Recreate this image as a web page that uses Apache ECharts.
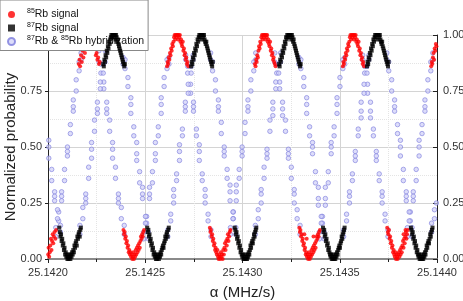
<!DOCTYPE html>
<html>
<head>
<meta charset="utf-8">
<script src="https://cdn.jsdelivr.net/npm/echarts@6/dist/echarts.min.js"></script>
<style>html,body{margin:0;padding:0;background:#fff;}#c{width:463px;height:301px;}</style>
</head>
<body>
<div id="c"></div>
<script>
// ---- data ----
const xMin = 25.1420, xMax = 25.1440, xStep = 0.0005;
const yMin = 0, yMax = 1, yStep = 0.25;
const xAxisTitle = 'α (MHz/s)';
const yAxisTitle = 'Normalized probability';

const rb85Signal = [
[25.142001,0.02],[25.142003,0.05],[25.142006,0.01],[25.142009,0.03],[25.142012,0.06],[25.142015,0.09],[25.142018,0.04],[25.142021,0.08],[25.142024,0.11],[25.142027,0.07],[25.142030,0.10],[25.142034,0.12],[25.142038,0.09],[25.142042,0.13],
[25.142158,0.87],[25.142162,0.89],[25.142165,0.86],[25.142170,0.91],[25.142174,0.88],[25.142178,0.93],[25.142182,0.90],[25.142186,0.95],[25.142190,0.92],[25.142194,0.97],[25.142198,0.96],[25.142202,0.99],[25.142206,1.00],[25.142210,0.98],[25.142214,1.00],[25.142218,0.99],[25.142222,1.00],[25.142226,0.97],[25.142230,1.00],[25.142234,0.96],[25.142238,0.94],[25.142242,0.95],[25.142246,0.91],[25.142250,0.92],[25.142254,0.89],[25.142258,0.90],[25.142262,0.87],[25.142266,0.88],
[25.142388,0.13],[25.142391,0.11],[25.142394,0.12],[25.142397,0.09],[25.142400,0.10],[25.142403,0.07],[25.142406,0.08],[25.142409,0.05],[25.142412,0.06],[25.142415,0.03],[25.142418,0.04],[25.142421,0.02],[25.142424,0.03],[25.142427,0.01],[25.142430,0.02],[25.142433,0.00],[25.142436,0.01],[25.142439,0.03],[25.142442,0.00],[25.142445,0.02],[25.142448,0.01],[25.142451,0.04],[25.142454,0.02],[25.142457,0.05],[25.142460,0.03],[25.142463,0.06],[25.142466,0.04],[25.142469,0.07],[25.142472,0.05],[25.142475,0.08],[25.142478,0.10],[25.142481,0.09],[25.142484,0.11],[25.142487,0.10],[25.142490,0.12],[25.142494,0.13],
[25.142612,0.86],[25.142615,0.88],[25.142618,0.87],[25.142621,0.90],[25.142624,0.89],[25.142627,0.92],[25.142630,0.91],[25.142633,0.94],[25.142636,0.93],[25.142639,0.96],[25.142642,0.95],[25.142645,0.97],[25.142648,0.99],[25.142651,1.00],[25.142654,0.98],[25.142657,1.00],[25.142660,0.99],[25.142663,1.00],[25.142666,1.00],[25.142669,0.98],[25.142672,1.00],[25.142675,0.99],[25.142678,1.00],[25.142681,0.97],[25.142684,0.98],[25.142687,0.96],[25.142690,0.95],[25.142693,0.97],[25.142696,0.93],[25.142699,0.94],[25.142702,0.91],[25.142705,0.92],[25.142708,0.89],[25.142711,0.90],[25.142714,0.87],[25.142717,0.88],[25.142721,0.86],
[25.142832,0.14],[25.142835,0.12],[25.142838,0.13],[25.142841,0.10],[25.142844,0.11],[25.142847,0.08],[25.142850,0.09],[25.142853,0.06],[25.142856,0.07],[25.142859,0.04],[25.142862,0.05],[25.142865,0.03],[25.142868,0.02],[25.142871,0.04],[25.142874,0.01],[25.142877,0.00],[25.142880,0.02],[25.142883,0.01],[25.142886,0.00],[25.142889,0.03],[25.142892,0.01],[25.142895,0.02],[25.142898,0.00],[25.142901,0.04],[25.142904,0.02],[25.142907,0.05],[25.142910,0.07],[25.142913,0.04],[25.142916,0.08],[25.142919,0.06],[25.142922,0.09],[25.142925,0.11],[25.142928,0.08],[25.142931,0.10],[25.142934,0.12],[25.142938,0.13],
[25.143064,0.87],[25.143067,0.86],[25.143070,0.89],[25.143073,0.88],[25.143076,0.91],[25.143079,0.90],[25.143082,0.93],[25.143085,0.95],[25.143088,0.94],[25.143091,0.97],[25.143094,0.96],[25.143097,0.99],[25.143100,1.00],[25.143103,0.98],[25.143106,1.00],[25.143109,0.99],[25.143112,1.00],[25.143115,1.00],[25.143118,0.98],[25.143121,1.00],[25.143124,0.99],[25.143127,1.00],[25.143130,0.97],[25.143133,0.98],[25.143136,0.96],[25.143139,0.95],[25.143142,0.97],[25.143145,0.93],[25.143148,0.94],[25.143151,0.91],[25.143154,0.92],[25.143157,0.89],[25.143160,0.90],[25.143163,0.88],[25.143166,0.87],[25.143170,0.86],
[25.143292,0.14],[25.143295,0.12],[25.143298,0.13],[25.143301,0.10],[25.143304,0.11],[25.143307,0.08],[25.143310,0.09],[25.143313,0.06],[25.143316,0.07],[25.143319,0.04],[25.143322,0.05],[25.143325,0.02],[25.143328,0.03],[25.143331,0.01],[25.143334,0.02],[25.143337,0.00],[25.143340,0.01],[25.143343,0.03],[25.143346,0.00],[25.143349,0.02],[25.143352,0.01],[25.143355,0.04],[25.143358,0.02],[25.143361,0.05],[25.143364,0.03],[25.143367,0.06],[25.143370,0.04],[25.143373,0.07],[25.143376,0.05],[25.143379,0.08],[25.143382,0.10],[25.143385,0.09],[25.143388,0.11],[25.143391,0.10],[25.143394,0.12],[25.143398,0.13],[25.143330,0.09],[25.143318,0.11],[25.143365,0.10],
[25.143516,0.86],[25.143519,0.88],[25.143522,0.87],[25.143525,0.90],[25.143528,0.89],[25.143531,0.92],[25.143534,0.91],[25.143537,0.94],[25.143540,0.93],[25.143543,0.96],[25.143546,0.95],[25.143549,0.97],[25.143552,0.99],[25.143555,1.00],[25.143558,0.98],[25.143561,1.00],[25.143564,0.99],[25.143567,1.00],[25.143570,1.00],[25.143573,0.98],[25.143576,1.00],[25.143579,0.99],[25.143582,1.00],[25.143585,0.97],[25.143588,0.98],[25.143591,0.96],[25.143594,0.95],[25.143597,0.97],[25.143600,0.93],[25.143603,0.94],[25.143606,0.91],[25.143609,0.92],[25.143612,0.89],[25.143615,0.90],[25.143618,0.87],[25.143621,0.88],[25.143625,0.86],
[25.143744,0.14],[25.143747,0.12],[25.143750,0.11],[25.143753,0.13],[25.143756,0.09],[25.143759,0.10],[25.143762,0.07],[25.143765,0.08],[25.143768,0.05],[25.143771,0.06],[25.143774,0.03],[25.143777,0.04],[25.143780,0.02],[25.143783,0.01],[25.143786,0.03],[25.143789,0.00],[25.143792,0.02],[25.143795,0.01],[25.143798,0.00],[25.143801,0.02],[25.143804,0.03],[25.143807,0.01],[25.143810,0.04],[25.143813,0.02],[25.143816,0.05],[25.143819,0.03],[25.143822,0.06],[25.143825,0.08],[25.143828,0.05],[25.143831,0.09],[25.143834,0.07],[25.143837,0.10],[25.143840,0.12],[25.143843,0.09],[25.143846,0.11],[25.143850,0.13],[25.143828,0.11],[25.143838,0.13],
[25.143970,0.86],[25.143973,0.88],[25.143976,0.87],[25.143979,0.90],[25.143982,0.92],[25.143985,0.89],[25.143988,0.94],[25.143991,0.93],[25.143994,0.96],[25.143997,0.95]
];

const rb87Signal = [
[25.142058,0.14],[25.142061,0.12],[25.142064,0.10],[25.142067,0.11],[25.142070,0.08],[25.142073,0.09],[25.142076,0.06],[25.142079,0.07],[25.142082,0.04],[25.142085,0.05],[25.142088,0.02],[25.142091,0.03],[25.142094,0.01],[25.142097,0.02],[25.142100,0.00],[25.142103,0.01],[25.142106,0.00],[25.142109,0.02],[25.142112,0.01],[25.142115,0.00],[25.142118,0.02],[25.142121,0.01],[25.142124,0.03],[25.142127,0.02],[25.142130,0.04],[25.142133,0.03],[25.142136,0.06],[25.142139,0.05],[25.142142,0.07],[25.142145,0.08],[25.142148,0.06],[25.142151,0.10],[25.142154,0.09],[25.142157,0.11],[25.142160,0.12],[25.142163,0.10],[25.142166,0.13],[25.142169,0.14],
[25.142284,0.87],[25.142287,0.86],[25.142290,0.89],[25.142293,0.88],[25.142296,0.91],[25.142299,0.90],[25.142302,0.93],[25.142305,0.92],[25.142308,0.95],[25.142311,0.94],[25.142314,0.97],[25.142317,0.96],[25.142320,0.98],[25.142323,0.99],[25.142326,1.00],[25.142329,0.99],[25.142332,1.00],[25.142335,1.00],[25.142338,0.99],[25.142341,1.00],[25.142344,1.00],[25.142347,0.98],[25.142350,1.00],[25.142353,0.99],[25.142356,0.97],[25.142359,0.98],[25.142362,0.96],[25.142365,0.95],[25.142368,0.94],[25.142371,0.93],[25.142374,0.92],[25.142377,0.91],[25.142380,0.90],[25.142383,0.89],[25.142386,0.88],[25.142389,0.87],[25.142392,0.86],[25.142395,0.87],
[25.142510,0.14],[25.142513,0.12],[25.142516,0.13],[25.142519,0.10],[25.142522,0.11],[25.142525,0.08],[25.142528,0.09],[25.142531,0.06],[25.142534,0.07],[25.142537,0.04],[25.142540,0.05],[25.142543,0.02],[25.142546,0.03],[25.142549,0.01],[25.142552,0.02],[25.142555,0.00],[25.142558,0.01],[25.142561,0.00],[25.142564,0.02],[25.142567,0.01],[25.142570,0.00],[25.142573,0.02],[25.142576,0.01],[25.142579,0.03],[25.142582,0.02],[25.142585,0.04],[25.142588,0.05],[25.142591,0.06],[25.142594,0.05],[25.142597,0.07],[25.142600,0.08],[25.142603,0.10],[25.142606,0.09],[25.142609,0.11],[25.142612,0.12],[25.142615,0.10],[25.142618,0.13],[25.142621,0.14],
[25.142736,0.86],[25.142739,0.88],[25.142742,0.87],[25.142745,0.90],[25.142748,0.89],[25.142751,0.92],[25.142754,0.91],[25.142757,0.94],[25.142760,0.93],[25.142763,0.96],[25.142766,0.95],[25.142769,0.98],[25.142772,0.97],[25.142775,0.99],[25.142778,1.00],[25.142781,0.99],[25.142784,1.00],[25.142787,1.00],[25.142790,0.98],[25.142793,1.00],[25.142796,1.00],[25.142799,0.99],[25.142802,1.00],[25.142805,0.98],[25.142808,0.97],[25.142811,0.96],[25.142814,0.97],[25.142817,0.95],[25.142820,0.94],[25.142823,0.93],[25.142826,0.92],[25.142829,0.91],[25.142832,0.90],[25.142835,0.89],[25.142838,0.88],[25.142841,0.87],[25.142844,0.86],[25.142847,0.88],
[25.142960,0.14],[25.142963,0.13],[25.142966,0.11],[25.142969,0.12],[25.142972,0.09],[25.142975,0.10],[25.142978,0.07],[25.142981,0.08],[25.142984,0.05],[25.142987,0.06],[25.142990,0.03],[25.142993,0.04],[25.142996,0.02],[25.142999,0.01],[25.143002,0.02],[25.143005,0.00],[25.143008,0.01],[25.143011,0.00],[25.143014,0.02],[25.143017,0.00],[25.143020,0.01],[25.143023,0.00],[25.143026,0.02],[25.143029,0.01],[25.143032,0.03],[25.143035,0.02],[25.143038,0.04],[25.143041,0.06],[25.143044,0.05],[25.143047,0.07],[25.143050,0.08],[25.143053,0.07],[25.143056,0.09],[25.143059,0.11],[25.143062,0.10],[25.143065,0.12],[25.143068,0.13],[25.143071,0.14],
[25.143188,0.87],[25.143191,0.86],[25.143194,0.89],[25.143197,0.88],[25.143200,0.91],[25.143203,0.90],[25.143206,0.93],[25.143209,0.92],[25.143212,0.95],[25.143215,0.94],[25.143218,0.97],[25.143221,0.96],[25.143224,0.99],[25.143227,0.98],[25.143230,1.00],[25.143233,0.99],[25.143236,1.00],[25.143239,1.00],[25.143242,0.99],[25.143245,1.00],[25.143248,1.00],[25.143251,0.98],[25.143254,1.00],[25.143257,0.99],[25.143260,0.97],[25.143263,0.98],[25.143266,0.96],[25.143269,0.95],[25.143272,0.94],[25.143275,0.93],[25.143278,0.92],[25.143281,0.91],[25.143284,0.90],[25.143287,0.89],[25.143290,0.88],[25.143293,0.87],[25.143296,0.86],[25.143299,0.87],
[25.143414,0.14],[25.143417,0.12],[25.143420,0.13],[25.143423,0.10],[25.143426,0.11],[25.143429,0.08],[25.143432,0.09],[25.143435,0.06],[25.143438,0.07],[25.143441,0.04],[25.143444,0.05],[25.143447,0.03],[25.143450,0.02],[25.143453,0.01],[25.143456,0.02],[25.143459,0.00],[25.143462,0.01],[25.143465,0.00],[25.143468,0.02],[25.143471,0.00],[25.143474,0.01],[25.143477,0.00],[25.143480,0.02],[25.143483,0.01],[25.143486,0.03],[25.143489,0.02],[25.143492,0.04],[25.143495,0.05],[25.143498,0.06],[25.143501,0.05],[25.143504,0.07],[25.143507,0.08],[25.143510,0.10],[25.143513,0.09],[25.143516,0.11],[25.143519,0.12],[25.143522,0.13],[25.143525,0.14],
[25.143640,0.86],[25.143643,0.88],[25.143646,0.87],[25.143649,0.90],[25.143652,0.89],[25.143655,0.92],[25.143658,0.91],[25.143661,0.94],[25.143664,0.93],[25.143667,0.96],[25.143670,0.95],[25.143673,0.98],[25.143676,0.97],[25.143679,0.99],[25.143682,1.00],[25.143685,0.99],[25.143688,1.00],[25.143691,1.00],[25.143694,0.98],[25.143697,1.00],[25.143700,1.00],[25.143703,0.99],[25.143706,1.00],[25.143709,0.98],[25.143712,0.97],[25.143715,0.96],[25.143718,0.97],[25.143721,0.95],[25.143724,0.94],[25.143727,0.93],[25.143730,0.92],[25.143733,0.91],[25.143736,0.90],[25.143739,0.89],[25.143742,0.88],[25.143745,0.87],[25.143748,0.86],[25.143751,0.88],
[25.143866,0.14],[25.143869,0.13],[25.143872,0.11],[25.143875,0.12],[25.143878,0.09],[25.143881,0.10],[25.143884,0.07],[25.143887,0.08],[25.143890,0.05],[25.143893,0.06],[25.143896,0.03],[25.143899,0.04],[25.143902,0.02],[25.143905,0.01],[25.143908,0.02],[25.143911,0.00],[25.143914,0.01],[25.143917,0.00],[25.143920,0.02],[25.143923,0.00],[25.143926,0.01],[25.143929,0.00],[25.143932,0.02],[25.143935,0.01],[25.143938,0.03],[25.143941,0.02],[25.143944,0.04],[25.143947,0.06],[25.143950,0.05],[25.143953,0.07],[25.143956,0.08],[25.143959,0.07],[25.143962,0.09],[25.143965,0.11],[25.143968,0.10],[25.143971,0.12],[25.143974,0.13],[25.143977,0.14]
];

// hybridization points following the 85Rb fringes
const hybBranch85 = [
[25.142040,.10],[25.142040,.14],[25.142055,.17],[25.142055,.21],[25.142070,.26],[25.142070,.30],[25.142070,.28],[25.142085,.35],[25.142085,.40],[25.142100,.46],[25.142100,.50],[25.142100,.48],[25.142115,.56],[25.142115,.60],[25.142130,.66],[25.142130,.71],[25.142130,.68],[25.142145,.75],[25.142145,.80],[25.142160,.84],[25.142160,.88],[25.142170,.89],[25.142170,.92],
[25.142392,.11],[25.142392,.15],[25.142377,.18],[25.142377,.23],[25.142362,.25],[25.142362,.29],[25.142362,.27],[25.142347,.36],[25.142347,.41],[25.142332,.45],[25.142332,.49],[25.142332,.52],[25.142317,.57],[25.142317,.62],[25.142302,.67],[25.142302,.70],[25.142302,.65],[25.142287,.76],[25.142287,.79],[25.142272,.83],[25.142272,.87],[25.142262,.88],[25.142262,.93],
[25.142492,.12],[25.142492,.09],[25.142507,.19],[25.142507,.16],[25.142522,.27],[25.142522,.32],[25.142522,.29],[25.142537,.34],[25.142537,.39],[25.142552,.47],[25.142552,.52],[25.142552,.44],[25.142567,.55],[25.142567,.59],[25.142582,.65],[25.142582,.69],[25.142582,.72],[25.142597,.77],[25.142597,.81],[25.142612,.85],[25.142612,.89],[25.142622,.90],[25.142622,.87],
[25.142838,.13],[25.142838,.10],[25.142823,.20],[25.142823,.17],[25.142808,.28],[25.142808,.25],[25.142808,.31],[25.142793,.38],[25.142793,.35],[25.142778,.48],[25.142778,.44],[25.142778,.51],[25.142763,.58],[25.142763,.55],[25.142748,.70],[25.142748,.66],[25.142748,.68],[25.142733,.78],[25.142733,.74],[25.142718,.86],[25.142718,.83],[25.142708,.91],[25.142708,.89],
[25.142938,.11],[25.142938,.14],[25.142953,.18],[25.142953,.21],[25.142968,.26],[25.142968,.30],[25.142968,.33],[25.142983,.36],[25.142983,.40],[25.142998,.46],[25.142998,.50],[25.142998,.48],[25.143013,.56],[25.143013,.61],[25.143028,.66],[25.143028,.71],[25.143028,.68],[25.143043,.75],[25.143043,.80],[25.143058,.84],[25.143058,.88],[25.143068,.89],[25.143068,.92],
[25.143296,.11],[25.143296,.15],[25.143281,.18],[25.143281,.22],[25.143266,.25],[25.143266,.29],[25.143266,.31],[25.143251,.36],[25.143251,.41],[25.143236,.45],[25.143236,.49],[25.143236,.47],[25.143221,.57],[25.143221,.62],[25.143206,.67],[25.143206,.70],[25.143206,.64],[25.143191,.76],[25.143191,.79],[25.143176,.83],[25.143176,.87],[25.143166,.88],[25.143166,.92],
[25.143396,.12],[25.143396,.09],[25.143411,.19],[25.143411,.16],[25.143426,.27],[25.143426,.32],[25.143426,.24],[25.143441,.34],[25.143441,.39],[25.143456,.47],[25.143456,.52],[25.143456,.50],[25.143471,.55],[25.143471,.59],[25.143486,.65],[25.143486,.69],[25.143486,.72],[25.143501,.77],[25.143501,.81],[25.143516,.85],[25.143516,.89],[25.143526,.90],[25.143526,.87],
[25.143748,.13],[25.143748,.10],[25.143733,.20],[25.143733,.17],[25.143718,.28],[25.143718,.25],[25.143718,.30],[25.143703,.38],[25.143703,.35],[25.143688,.48],[25.143688,.44],[25.143688,.46],[25.143673,.58],[25.143673,.55],[25.143658,.70],[25.143658,.66],[25.143658,.63],[25.143643,.78],[25.143643,.74],[25.143628,.86],[25.143628,.83],[25.143618,.91],[25.143618,.89],
[25.143848,.10],[25.143848,.14],[25.143863,.17],[25.143863,.21],[25.143878,.26],[25.143878,.30],[25.143878,.28],[25.143893,.35],[25.143893,.40],[25.143908,.46],[25.143908,.50],[25.143908,.53],[25.143923,.56],[25.143923,.60],[25.143938,.66],[25.143938,.71],[25.143938,.68],[25.143953,.75],[25.143953,.80],[25.143968,.84],[25.143968,.88],[25.143978,.89],[25.143978,.92]
];

// hybridization points following the 87Rb fringes
const hybBranch87 = [
[25.142064,.12],[25.142064,.15],[25.142049,.18],[25.142049,.22],[25.142034,.26],[25.142034,.30],[25.142034,.28],[25.142019,.35],[25.142019,.40],[25.142004,.45],[25.142004,.50],[25.142004,.53],
[25.142164,.11],[25.142164,.15],[25.142179,.18],[25.142179,.23],[25.142194,.25],[25.142194,.29],[25.142194,.27],[25.142209,.36],[25.142209,.41],[25.142224,.45],[25.142224,.49],[25.142224,.52],[25.142239,.57],[25.142239,.62],[25.142254,.67],[25.142254,.70],[25.142254,.65],[25.142269,.76],[25.142269,.79],[25.142284,.83],[25.142284,.87],[25.142294,.88],[25.142294,.93],
[25.142516,.12],[25.142516,.09],[25.142501,.19],[25.142501,.16],[25.142486,.27],[25.142486,.32],[25.142486,.29],[25.142471,.34],[25.142471,.39],[25.142456,.47],[25.142456,.52],[25.142456,.44],[25.142441,.55],[25.142441,.59],[25.142426,.65],[25.142426,.69],[25.142426,.72],[25.142411,.77],[25.142411,.81],[25.142396,.85],[25.142396,.89],[25.142386,.90],[25.142386,.87],
[25.142616,.13],[25.142616,.10],[25.142631,.20],[25.142631,.17],[25.142646,.28],[25.142646,.25],[25.142646,.31],[25.142661,.38],[25.142661,.35],[25.142676,.48],[25.142676,.44],[25.142676,.51],[25.142691,.58],[25.142691,.55],[25.142706,.70],[25.142706,.66],[25.142706,.68],[25.142721,.78],[25.142721,.74],[25.142736,.86],[25.142736,.83],[25.142746,.91],[25.142746,.89],
[25.142966,.11],[25.142966,.14],[25.142951,.18],[25.142951,.21],[25.142936,.26],[25.142936,.30],[25.142936,.33],[25.142921,.36],[25.142921,.40],[25.142906,.46],[25.142906,.50],[25.142906,.48],[25.142891,.56],[25.142891,.61],[25.142876,.66],[25.142876,.71],[25.142876,.68],[25.142861,.75],[25.142861,.80],[25.142846,.84],[25.142846,.88],[25.142836,.89],[25.142836,.92],
[25.143066,.11],[25.143066,.15],[25.143081,.18],[25.143081,.22],[25.143096,.25],[25.143096,.29],[25.143096,.31],[25.143111,.36],[25.143111,.41],[25.143126,.45],[25.143126,.49],[25.143126,.47],[25.143141,.57],[25.143141,.62],[25.143156,.67],[25.143156,.70],[25.143156,.64],[25.143171,.76],[25.143171,.79],[25.143186,.83],[25.143186,.87],[25.143196,.88],[25.143196,.92],
[25.143420,.12],[25.143420,.09],[25.143405,.19],[25.143405,.16],[25.143390,.27],[25.143390,.32],[25.143390,.24],[25.143375,.34],[25.143375,.39],[25.143360,.47],[25.143360,.52],[25.143360,.50],[25.143345,.55],[25.143345,.59],[25.143330,.65],[25.143330,.69],[25.143330,.72],[25.143315,.77],[25.143315,.81],[25.143300,.85],[25.143300,.89],[25.143290,.90],[25.143290,.87],
[25.143520,.13],[25.143520,.10],[25.143535,.20],[25.143535,.17],[25.143550,.28],[25.143550,.25],[25.143550,.30],[25.143565,.38],[25.143565,.35],[25.143580,.48],[25.143580,.44],[25.143580,.46],[25.143595,.58],[25.143595,.55],[25.143610,.70],[25.143610,.66],[25.143610,.63],[25.143625,.78],[25.143625,.74],[25.143640,.86],[25.143640,.83],[25.143650,.91],[25.143650,.89],
[25.143872,.10],[25.143872,.14],[25.143857,.17],[25.143857,.21],[25.143842,.26],[25.143842,.30],[25.143842,.28],[25.143827,.35],[25.143827,.40],[25.143812,.46],[25.143812,.50],[25.143812,.53],[25.143797,.56],[25.143797,.60],[25.143782,.66],[25.143782,.71],[25.143782,.68],[25.143767,.75],[25.143767,.80],[25.143752,.84],[25.143752,.88],[25.143742,.89],[25.143742,.92],
[25.143972,.12],[25.143972,.16],[25.143987,.18],[25.143987,.22],[25.143997,.25]
];

const legendText = {
  s85: '{g|}{sup|85}{t|Rb signal}',
  s87: '{g|}{sup|87}{t|Rb signal}',
  hyb: '{g|}{sup|87}{t|Rb & }{sup|85}{t|Rb hybridization}'
};

// ---- chart ----
const chart = echarts.init(document.getElementById('c'), null, {renderer: 'canvas'});
const FONT = 'Liberation Sans, Arial, sans-serif';
const axisLabelStyle = {color: '#333', fontSize: 11, fontFamily: FONT};

chart.setOption({
  animation: false,
  backgroundColor: '#fff',
  grid: {left: 48, right: 26, top: 35, bottom: 42, containLabel: false, outerBoundsMode: 'none'},
  legend: {
    left: 0, top: 0, orient: 'vertical',
    backgroundColor: '#fff', borderColor: '#888', borderWidth: 1, borderRadius: 0,
    padding: [8, 4, 3, 7], itemGap: 1, itemWidth: 7, itemHeight: 7,
    data: ['s85', 's87', 'hyb'],
    formatter: n => legendText[n],
    textStyle: {
      fontFamily: FONT, color: '#111',
      rich: {
        g: {width: 7},
        sup: {fontSize: 7, fontFamily: FONT, color: '#111', padding: [0, 0, 6, 0]},
        t: {fontSize: 10.5, fontFamily: FONT, color: '#111', lineHeight: 13}
      }
    }
  },
  xAxis: [{
    type: 'value', min: xMin, max: xMax, interval: xStep,
    name: xAxisTitle, nameLocation: 'middle', nameGap: 26, nameMoveOverlap: false,
    nameTextStyle: {fontSize: 15, color: '#222', fontFamily: FONT},
    axisLine: {lineStyle: {color: '#222', width: 1}},
    axisTick: {show: true, inside: false, length: 4, lineStyle: {color: '#222'}},
    minorTick: {show: true, splitNumber: 2, length: 3, lineStyle: {color: '#222'}},
    axisLabel: Object.assign({formatter: v => v.toFixed(4), margin: 8}, axisLabelStyle),
    splitLine: {show: true, lineStyle: {color: '#d4d4d4', width: 1}},
    minorSplitLine: {show: true, lineStyle: {color: '#e4e4e4', width: 1, type: 'dotted'}}
  }, {
    type: 'value', min: xMin, max: xMax, position: 'top',
    axisLine: {show: true, lineStyle: {color: '#8a8a8a', width: 2}},
    axisTick: {show: false}, axisLabel: {show: false}, splitLine: {show: false}
  }],
  yAxis: [{
    type: 'value', min: yMin, max: yMax, interval: yStep,
    name: yAxisTitle, nameLocation: 'middle', nameGap: 30, nameRotate: 90, nameMoveOverlap: false,
    nameTextStyle: {fontSize: 15, color: '#222', fontFamily: FONT},
    axisLine: {show: true, lineStyle: {color: '#222', width: 1}},
    axisTick: {show: true, inside: false, length: 3, lineStyle: {color: '#222'}},
    axisLabel: Object.assign({formatter: v => v.toFixed(2), margin: 6}, axisLabelStyle),
    splitLine: {show: true, lineStyle: {color: '#d4d4d4', width: 1}},
    minorTick: {show: false, splitNumber: 2},
    minorSplitLine: {show: true, lineStyle: {color: '#e4e4e4', width: 1, type: 'dotted'}}
  }, {
    type: 'value', min: yMin, max: yMax, interval: yStep, position: 'right',
    axisLine: {show: true, lineStyle: {color: '#222', width: 1}},
    axisTick: {show: true, inside: true, length: 4, lineStyle: {color: '#222'}},
    axisLabel: Object.assign({formatter: v => v.toFixed(2), margin: 6}, axisLabelStyle),
    splitLine: {show: false}
  }],
  series: [
    {
      name: 'hyb', type: 'scatter', xAxisIndex: 0, yAxisIndex: 0,
      symbol: 'circle', symbolSize: 4.5,
      itemStyle: {color: 'rgba(205,205,248,0.85)', borderColor: '#7c7cdc', borderWidth: 0.8},
      data: hybBranch85.concat(hybBranch87), z: 2
    },
    {
      name: 's85', type: 'scatter', xAxisIndex: 0, yAxisIndex: 0,
      symbol: 'circle', symbolSize: 4,
      itemStyle: {color: '#ff0000'},
      data: rb85Signal, z: 3
    },
    {
      name: 's87', type: 'scatter', xAxisIndex: 0, yAxisIndex: 0,
      symbol: 'rect', symbolSize: 4,
      itemStyle: {color: '#000000'},
      data: rb87Signal, z: 4
    }
  ]
});
</script>
</body>
</html>
